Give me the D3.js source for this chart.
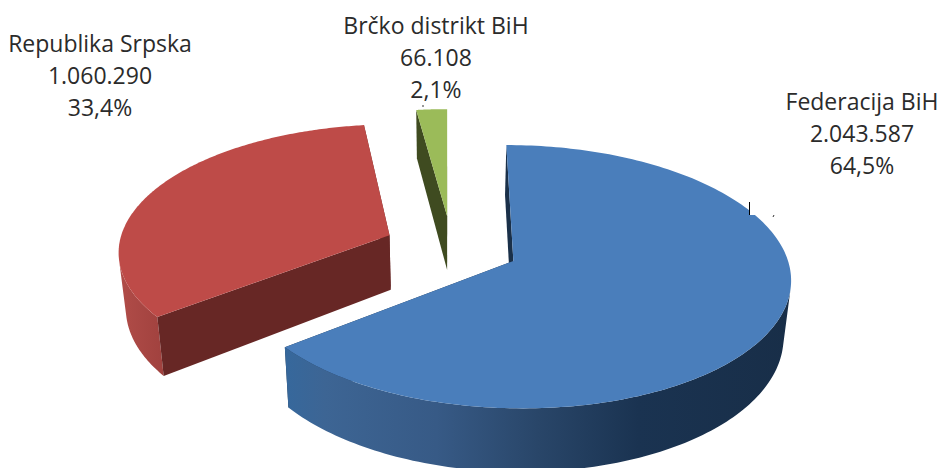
<!DOCTYPE html>
<html>
<head>
<meta charset="utf-8">
<script src="https://cdn.jsdelivr.net/npm/d3@7"></script>
<style>
html, body { margin: 0; padding: 0; background: #fff; }
svg { display: block; }
text { font-family: "Open Sans", sans-serif; font-size: 23px; fill: #2b2b2b; text-anchor: middle; }
</style>
</head>
<body>
<script>
// podaci
var categories = ["Federacija BiH", "Republika Srpska", "Brčko distrikt BiH"];
var values = [2043587, 1060290, 66108];
var value_labels = ["2.043.587", "1.060.290", "66.108"];
var percent_labels = ["64,5%", "33,4%", "2,1%"];

// boje
var top_colors = ["#4a7ebb", "#be4b48", "#9bbb59"];
var face_colors = ["#1a3049", "#672725", "#3f4b20"];

// pozicije natpisa (centar, prvi red)
var label_x = [862, 100, 436];
var label_y = [110, 52, 34];
var line_height = 32;

// projekcija diska u perspektivi
var svg_width = 940;
var svg_height = 468;
var vanish_x = 447;
var center_y = 261;
var radius_x = 274.7;
var radius_z = 129.8;
var persp = 0.1186;
var depth = 56;
var taper = 0.022;
var explode = 0.25;
var origin = [0.017, -0.109];

var svg = d3.select("body").append("svg").attr("width", svg_width).attr("height", svg_height);

function project(wx, wz, h) {
    var s = 1 / (1 - persp * wz);
    return [
        vanish_x + radius_x * wx * s * (1 - taper * h),
        center_y + radius_z * wz * s + depth * s * h
    ];
}

var pie = d3.pie().sort(null).value(function(d) { return d; });
var arcs = pie(values);
var line = d3.line();

// gradijenti za spoljni zid
var defs = svg.append("defs");
function add_gradient(id, x1, x2, stops) {
    var g = defs.append("linearGradient").attr("id", id)
        .attr("gradientUnits", "userSpaceOnUse")
        .attr("x1", x1).attr("x2", x2).attr("y1", 0).attr("y2", 0);
    stops.forEach(function(s) {
        g.append("stop").attr("offset", s[0]).attr("stop-color", s[1]);
    });
}
add_gradient("wall0", 285, 790, [[0, "#36689c"], [0.08, "#3d6594"], [0.3, "#375a86"], [0.5, "#294669"], [0.7, "#1a3351"], [1, "#182e48"]]);
add_gradient("wall1", 121, 165, [[0, "#b04c48"], [1, "#a0413e"]]);
add_gradient("wall2", 415, 450, [[0, "#3f4b20"], [1, "#3f4b20"]]);

function slice_center(d) {
    var mid = (d.startAngle + d.endAngle) / 2;
    return [origin[0] + explode * Math.sin(mid), origin[1] - explode * Math.cos(mid)];
}

function rim(d, c, h) {
    return d3.range(0, 201).map(function(i) {
        var a = d.startAngle + (d.endAngle - d.startAngle) * i / 200;
        return project(c[0] + Math.sin(a), c[1] - Math.cos(a), h);
    });
}

function radial_face(c, a) {
    var ox = c[0] + Math.sin(a), oz = c[1] - Math.cos(a);
    return [project(c[0], c[1], 0), project(ox, oz, 0), project(ox, oz, 1), project(c[0], c[1], 1)];
}

// samo deo zida okrenut ka posmatracu
function front_walls(top_rim, bottom_rim) {
    var runs = [], run = null;
    d3.range(0, top_rim.length - 1).forEach(function(i) {
        var quad = [top_rim[i], top_rim[i + 1], bottom_rim[i + 1], bottom_rim[i]];
        if (d3.polygonArea(quad) > 0) {
            if (!run) { run = [i, i + 1]; runs.push(run); }
            run[1] = i + 1;
        } else {
            run = null;
        }
    });
    return runs.map(function(r) {
        return top_rim.slice(r[0], r[1] + 1).concat(bottom_rim.slice(r[0], r[1] + 1).reverse());
    });
}

function draw_slice(d, i) {
    var c = slice_center(d);
    var g = svg.append("g").attr("class", "slice");
    var top_rim = rim(d, c, 0);
    var bottom_rim = rim(d, c, 1);

    g.append("path").attr("d", line(radial_face(c, d.endAngle)) + "Z").attr("fill", face_colors[i]);
    front_walls(top_rim, bottom_rim).forEach(function(w) {
        g.append("path").attr("d", line(w) + "Z").attr("fill", "url(#wall" + i + ")");
    });
    g.append("path").attr("d", line(radial_face(c, d.startAngle)) + "Z").attr("fill", face_colors[i]);
    g.append("path").attr("d", line([project(c[0], c[1], 0)].concat(top_rim)) + "Z").attr("fill", top_colors[i]);
}

// crta se od zadnjeg ka prednjem
[2, 1, 0].forEach(function(i) { draw_slice(arcs[i], i); });

// natpisi
categories.forEach(function(name, i) {
    var t = svg.append("text").attr("class", "label");
    [name, value_labels[i], percent_labels[i]].forEach(function(s, j) {
        t.append("tspan").attr("x", label_x[i]).attr("y", label_y[i] + j * line_height).text(s);
    });
});

// ostaci linija vodilja sa originala
svg.append("rect").attr("x", 749).attr("y", 203).attr("width", 10).attr("height", 12).attr("fill", "#fff");
svg.append("line").attr("x1", 749.5).attr("y1", 202).attr("x2", 749.5).attr("y2", 215).attr("stroke", "#000").attr("stroke-width", 1);
svg.append("line").attr("x1", 773).attr("y1", 217).attr("x2", 774).attr("y2", 215).attr("stroke", "#333").attr("stroke-width", 1);
svg.append("line").attr("x1", 423).attr("y1", 105).attr("x2", 423).attr("y2", 107).attr("stroke", "#333").attr("stroke-width", 1);
</script>
</body>
</html>
